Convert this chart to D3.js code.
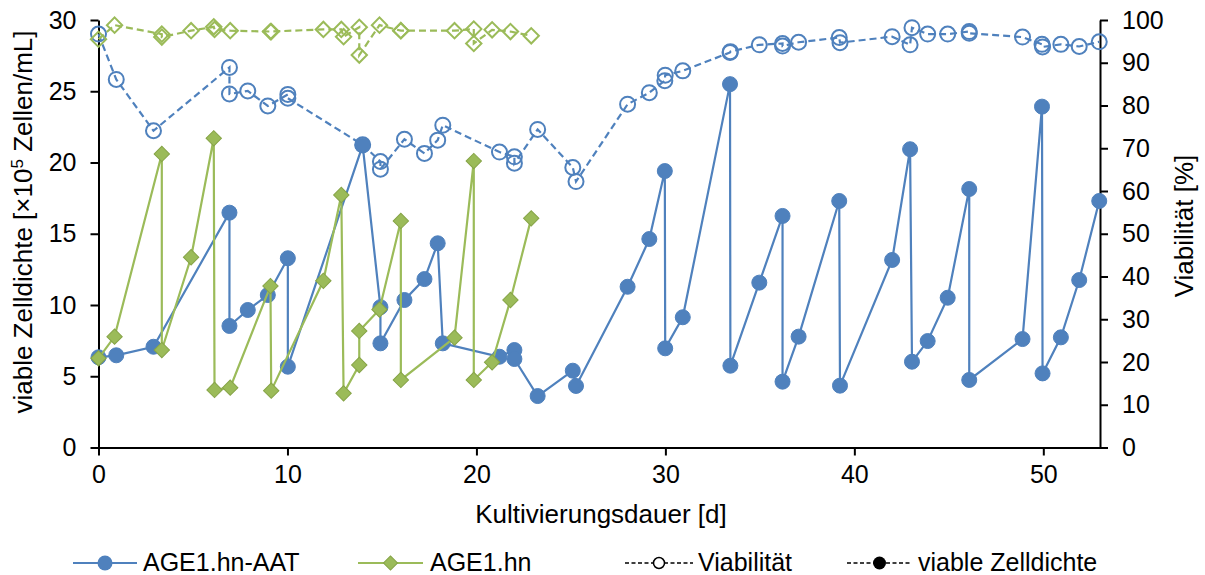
<!DOCTYPE html>
<html>
<head>
<meta charset="utf-8">
<script src="https://cdn.jsdelivr.net/npm/d3@7"></script>
<style>
  body { margin: 0; background: #fff; }
  text { font-family: 'Liberation Sans', Arial, sans-serif; fill: #000; }
</style>
</head>
<body>
<div id="chart"></div>
<script>
// AGE1.hn-AAT
const aatDays = [0, 0.94, 2.91, 6.93, 6.93, 7.9, 8.96, 10.02, 10.02, 13.98, 14.92, 14.92,
  16.19, 17.25, 17.95, 18.22, 21.22, 22.01, 22.01, 23.24, 25.1, 25.27, 28.0, 29.15,
  29.97, 29.99, 30.92, 33.42, 33.44, 34.97, 36.2, 36.2, 37.05, 39.2, 39.24, 42.0,
  42.95, 43.05, 43.88, 44.94, 46.08, 46.08, 48.9, 49.93, 49.96, 50.93, 51.9, 52.96];
const aatDensity = [6.33, 6.47, 7.07, 16.48, 8.53, 9.65, 10.7, 13.28, 5.67, 21.2, 9.85, 7.31,
  10.35, 11.82, 14.33, 7.31, 6.37, 6.84, 6.21, 3.61, 5.39, 4.32, 11.28, 14.63,
  19.4, 6.96, 9.14, 25.5, 5.74, 11.57, 16.25, 4.62, 7.78, 17.3, 4.34, 13.16,
  20.93, 6.02, 7.47, 10.51, 18.14, 4.74, 7.61, 23.92, 5.2, 7.73, 11.75, 17.3];
const aatViability = [96.7, 86.1, 74.1, 88.9, 82.7, 83.4, 79.9, 82.6, 81.7, 70.8, 66.9, 65.1,
  72.1, 68.8, 71.9, 75.4, 69.1, 68.0, 66.5, 74.4, 65.5, 62.2, 80.3, 83.0,
  85.8, 87.1, 88.1, 92.4, 92.6, 94.2, 94.5, 93.9, 94.8, 95.9, 94.7, 96.1,
  94.2, 98.2, 96.7, 96.7, 97.3, 96.9, 96.0, 94.3, 93.7, 94.3, 93.8, 94.9];

// AGE1.hn
const hnDays = [0, 0.85, 3.35, 3.35, 4.9, 6.1, 6.14, 6.97, 9.1, 9.14, 11.9, 12.85,
  12.97, 13.8, 13.8, 14.87, 16.0, 16.0, 18.84, 19.86, 19.86, 20.83, 21.8, 22.9];
const hnDensity = [6.26, 7.78, 20.6, 6.84, 13.35, 21.7, 4.04, 4.2, 11.33, 3.99, 11.7, 17.72,
  3.8, 5.79, 8.18, 9.68, 15.9, 4.74, 7.71, 20.1, 4.74, 5.98, 10.35, 16.08];
const hnViability = [95.5, 98.8, 96.7, 96.0, 97.5, 98.4, 97.8, 97.5, 97.3, 97.3, 97.8, 97.8,
  96.1, 98.3, 91.8, 98.8, 97.5, 97.5, 97.5, 97.9, 94.5, 97.7, 97.3, 96.3];

const xTicks = [0, 10, 20, 30, 40, 50];
const densityTicks = [0, 5, 10, 15, 20, 25, 30];
const viabilityTicks = [0, 10, 20, 30, 40, 50, 60, 70, 80, 90, 100];
const legendLabels = ['AGE1.hn-AAT', 'AGE1.hn', 'Viabilität', 'viable Zelldichte'];

const BLUE = '#4f81bd';
const GREEN = '#9bbb59';

class CultureChart {
  constructor({ container, width, height }) {
    this.container = container;
    this.width = width;
    this.height = height;
    this.fontSize = 25;
    this.titleSize = 26;

    this.init();
    this.drawAxes();
    this.drawViability();
    this.drawDensity();
    this.drawLegend();
  }

  init() {
    this.svg = d3.select(this.container)
      .append('svg')
      .attr('width', this.width)
      .attr('height', this.height);

    this.x = d3.scaleLinear().domain([0, 53]).range([98.5, 1100]);
    this.yLeft = d3.scaleLinear().domain([0, 30]).range([447.5, 20]);
    this.yRight = d3.scaleLinear().domain([0, 100]).range([447.5, 20]);
  }

  styleAxis(g) {
    g.selectAll('path').attr('stroke', '#000').attr('stroke-width', 2);
    g.selectAll('line').attr('stroke', '#000').attr('stroke-width', 2);
    g.selectAll('text')
      .style('font-size', `${this.fontSize}px`)
      .style('font-family', "'Liberation Sans', Arial, sans-serif")
      .attr('fill', '#000');
  }

  drawAxes() {
    const bottom = this.svg.append('g')
      .attr('transform', 'translate(0,447.5)')
      .call(d3.axisBottom(this.x).tickValues(xTicks).tickSize(8).tickPadding(10).tickSizeOuter(0));
    this.styleAxis(bottom);

    const left = this.svg.append('g')
      .attr('transform', 'translate(98.5,0)')
      .call(d3.axisLeft(this.yLeft).tickValues(densityTicks).tickSize(8).tickPadding(14).tickSizeOuter(0));
    this.styleAxis(left);

    const right = this.svg.append('g')
      .attr('transform', 'translate(1100,0)')
      .call(d3.axisRight(this.yRight).tickValues(viabilityTicks).tickSize(8).tickPadding(14).tickSizeOuter(0));
    this.styleAxis(right);

    this.svg.append('text')
      .attr('x', 601)
      .attr('y', 523)
      .attr('text-anchor', 'middle')
      .style('font-size', `${this.titleSize}px`)
      .text('Kultivierungsdauer [d]');

    const yLabel = this.svg.append('text')
      .attr('transform', 'translate(32,222) rotate(-90)')
      .attr('text-anchor', 'middle')
      .style('font-size', `${this.titleSize}px`);
    yLabel.append('tspan').text('viable Zelldichte [×10');
    yLabel.append('tspan').attr('dy', -9).style('font-size', '17px').text('5');
    yLabel.append('tspan').attr('dy', 9).text(' Zellen/mL]');

    this.svg.append('text')
      .attr('transform', 'translate(1193,226) rotate(-90)')
      .attr('text-anchor', 'middle')
      .style('font-size', `${this.titleSize}px`)
      .text('Viabilität [%]');
  }

  seriesData(days, values) {
    return days.map((d, i) => ({ day: d, value: values[i] }));
  }

  drawViability() {
    const line = d3.line()
      .x(d => this.x(d.day))
      .y(d => this.yRight(d.value));

    const aat = this.seriesData(aatDays, aatViability);
    const hn = this.seriesData(hnDays, hnViability);

    this.svg.append('path')
      .datum(aat)
      .attr('fill', 'none')
      .attr('stroke', BLUE)
      .attr('stroke-width', 2.2)
      .attr('stroke-dasharray', '7,4')
      .attr('d', line);

    this.svg.selectAll('.via-aat')
      .data(aat)
      .enter().append('circle')
      .attr('class', 'via-aat')
      .attr('cx', d => this.x(d.day))
      .attr('cy', d => this.yRight(d.value))
      .attr('r', 7.5)
      .attr('fill', 'none')
      .attr('stroke', BLUE)
      .attr('stroke-width', 2);

    this.svg.append('path')
      .datum(hn)
      .attr('fill', 'none')
      .attr('stroke', GREEN)
      .attr('stroke-width', 2.2)
      .attr('stroke-dasharray', '7,4')
      .attr('d', line);

    const diamond = d3.symbol().type(d3.symbolSquare).size(118);
    this.svg.selectAll('.via-hn')
      .data(hn)
      .enter().append('path')
      .attr('class', 'via-hn')
      .attr('d', diamond)
      .attr('transform', d => `translate(${this.x(d.day)},${this.yRight(d.value)}) rotate(45)`)
      .attr('fill', 'none')
      .attr('stroke', GREEN)
      .attr('stroke-width', 2);
  }

  drawDensity() {
    const line = d3.line()
      .x(d => this.x(d.day))
      .y(d => this.yLeft(d.value));

    const aat = this.seriesData(aatDays, aatDensity);
    const hn = this.seriesData(hnDays, hnDensity);

    this.svg.append('path')
      .datum(aat)
      .attr('fill', 'none')
      .attr('stroke', BLUE)
      .attr('stroke-width', 2.2)
      .attr('d', line);

    this.svg.selectAll('.dens-aat')
      .data(aat)
      .enter().append('circle')
      .attr('class', 'dens-aat')
      .attr('cx', d => this.x(d.day))
      .attr('cy', d => this.yLeft(d.value))
      .attr('r', 7.5)
      .attr('fill', BLUE)
      .attr('stroke', BLUE)
      .attr('stroke-width', 1);

    this.svg.append('path')
      .datum(hn)
      .attr('fill', 'none')
      .attr('stroke', GREEN)
      .attr('stroke-width', 2.2)
      .attr('d', line);

    const diamond = d3.symbol().type(d3.symbolSquare).size(118);
    this.svg.selectAll('.dens-hn')
      .data(hn)
      .enter().append('path')
      .attr('class', 'dens-hn')
      .attr('d', diamond)
      .attr('transform', d => `translate(${this.x(d.day)},${this.yLeft(d.value)}) rotate(45)`)
      .attr('fill', GREEN)
      .attr('stroke', '#86a447')
      .attr('stroke-width', 1);
  }

  drawLegend() {
    const y = 563;
    const items = [
      { label: legendLabels[0], x1: 73, x2: 137, text: 143, color: BLUE, mark: 'circle' },
      { label: legendLabels[1], x1: 358, x2: 423, text: 430, color: GREEN, mark: 'diamond' },
      { label: legendLabels[2], x1: 625, x2: 693, text: 698, color: '#000', mark: 'open' },
      { label: legendLabels[3], x1: 847, x2: 912, text: 918, color: '#000', mark: 'dot' }
    ];

    const g = this.svg.append('g').attr('class', 'legend');
    items.forEach((it) => {
      const dashed = it.mark === 'open' || it.mark === 'dot';
      g.append('line')
        .attr('x1', it.x1).attr('x2', it.x2)
        .attr('y1', y).attr('y2', y)
        .attr('stroke', it.color)
        .attr('stroke-width', dashed ? 1.5 : 2.2)
        .attr('stroke-dasharray', dashed ? '4,2.5' : null);

      const cx = (it.x1 + it.x2) / 2;
      if (it.mark === 'circle') {
        g.append('circle').attr('cx', cx).attr('cy', y).attr('r', 7.5).attr('fill', it.color);
      } else if (it.mark === 'diamond') {
        g.append('path')
          .attr('d', d3.symbol().type(d3.symbolSquare).size(100))
          .attr('transform', `translate(${cx},${y}) rotate(45)`)
          .attr('fill', it.color).attr('stroke', '#86a447');
      } else if (it.mark === 'open') {
        g.append('circle').attr('cx', cx).attr('cy', y).attr('r', 5.5)
          .attr('fill', '#fff').attr('stroke', '#000').attr('stroke-width', 1.5);
      } else {
        g.append('circle').attr('cx', cx).attr('cy', y).attr('r', 6.5).attr('fill', '#000');
      }

      g.append('text')
        .attr('x', it.text)
        .attr('y', 571)
        .style('font-size', `${this.fontSize}px`)
        .text(it.label);
    });
  }
}

new CultureChart({ container: '#chart', width: 1205, height: 575 });
</script>
</body>
</html>
